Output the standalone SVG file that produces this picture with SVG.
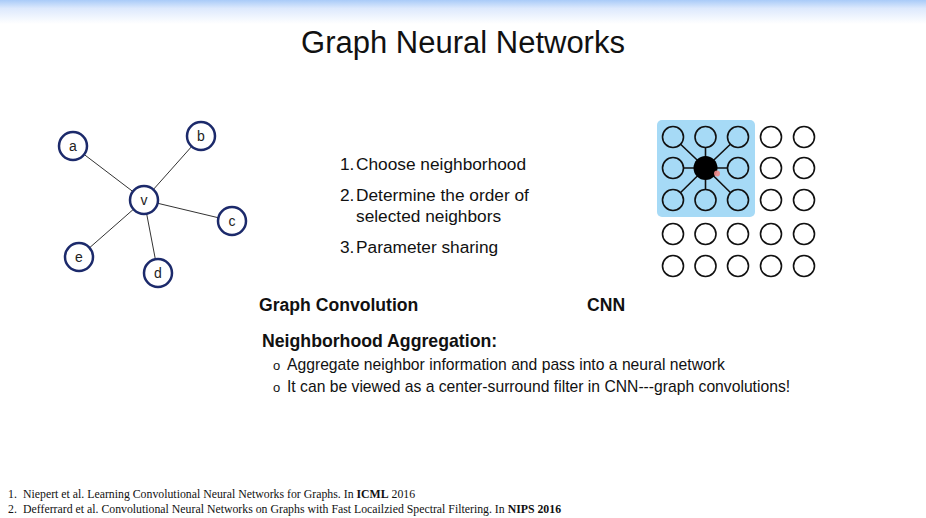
<svg xmlns="http://www.w3.org/2000/svg" width="926" height="518" viewBox="0 0 926 518">
<defs>
<linearGradient id="top" x1="0" y1="0" x2="0" y2="1">
<stop offset="0" stop-color="#a9cbf8"/>
<stop offset="0.35" stop-color="#dde9fd"/>
<stop offset="1" stop-color="#ffffff"/>
</linearGradient>
</defs>
<style>
.gn{fill:#fff;stroke:#1c2a6b;stroke-width:2.5}
.gl{font-family:"Liberation Sans",Arial,sans-serif;font-size:14px;fill:#222;text-anchor:middle}
.ge{stroke:#333;stroke-width:1}
.cc{fill:none;stroke:#111;stroke-width:1.6}
.cb{fill:#a6daf6;stroke:#111;stroke-width:1.6}
.ce{stroke:#111;stroke-width:1.6}
.t{font-family:"Liberation Sans",Arial,sans-serif;fill:#111}
.f{font-family:"Liberation Serif","Times New Roman",serif;font-size:11.8px;fill:#111}
</style>
<rect width="926" height="518" fill="#fff"/>
<rect width="926" height="24" fill="url(#top)"/>
<text class="t" x="463" y="53" font-size="31" text-anchor="middle">Graph Neural Networks</text>

<g id="connectors">
<line class="ge" x1="144" y1="200" x2="73" y2="146"/>
<line class="ge" x1="144" y1="200" x2="201" y2="136"/>
<line class="ge" x1="144" y1="200" x2="232" y2="221"/>
<line class="ge" x1="144" y1="200" x2="79" y2="257"/>
<line class="ge" x1="144" y1="200" x2="158" y2="273"/>
</g>
<g id="node-a"><circle class="gn" cx="73" cy="146" r="14"/><text class="gl" x="73" y="151">a</text></g>
<g id="node-b"><circle class="gn" cx="201" cy="136" r="14"/><text class="gl" x="201" y="141">b</text></g>
<g id="node-v"><circle class="gn" cx="144" cy="200" r="14"/><text class="gl" x="144" y="205">v</text></g>
<g id="node-c"><circle class="gn" cx="232" cy="221" r="14"/><text class="gl" x="232" y="226">c</text></g>
<g id="node-e"><circle class="gn" cx="79" cy="257" r="14"/><text class="gl" x="79" y="262">e</text></g>
<g id="node-d"><circle class="gn" cx="158" cy="273" r="14"/><text class="gl" x="158" y="278">d</text></g>

<g id="cnn">
<rect x="657" y="120" width="98" height="97" rx="5" fill="#a6daf6"/>
<g id="cnn-edges">
<line class="ce" x1="705.5" y1="168" x2="673" y2="137"/>
<line class="ce" x1="705.5" y1="168" x2="705.5" y2="137"/>
<line class="ce" x1="705.5" y1="168" x2="738" y2="137"/>
<line class="ce" x1="705.5" y1="168" x2="673" y2="168"/>
<line class="ce" x1="705.5" y1="168" x2="738" y2="168"/>
<line class="ce" x1="705.5" y1="168" x2="673" y2="200"/>
<line class="ce" x1="705.5" y1="168" x2="705.5" y2="200"/>
<line class="ce" x1="705.5" y1="168" x2="738" y2="200"/>
</g>
<g id="cnn-circles">
<circle class="cb" cx="673" cy="137" r="10.5"/>
<circle class="cb" cx="705.5" cy="137" r="10.5"/>
<circle class="cb" cx="738" cy="137" r="10.5"/>
<circle class="cc" cx="771" cy="137" r="10.5"/>
<circle class="cc" cx="804" cy="137" r="10.5"/>
<circle class="cb" cx="673" cy="168" r="10.5"/>
<circle cx="705.5" cy="168" r="12" fill="#000"/>
<circle class="cb" cx="738" cy="168" r="10.5"/>
<circle class="cc" cx="771" cy="168" r="10.5"/>
<circle class="cc" cx="804" cy="168" r="10.5"/>
<circle class="cb" cx="673" cy="200" r="10.5"/>
<circle class="cb" cx="705.5" cy="200" r="10.5"/>
<circle class="cb" cx="738" cy="200" r="10.5"/>
<circle class="cc" cx="771" cy="200" r="10.5"/>
<circle class="cc" cx="804" cy="200" r="10.5"/>
<circle class="cc" cx="673" cy="234" r="10.5"/>
<circle class="cc" cx="705.5" cy="234" r="10.5"/>
<circle class="cc" cx="738" cy="234" r="10.5"/>
<circle class="cc" cx="771" cy="234" r="10.5"/>
<circle class="cc" cx="804" cy="234" r="10.5"/>
<circle class="cc" cx="673" cy="266" r="10.5"/>
<circle class="cc" cx="705.5" cy="266" r="10.5"/>
<circle class="cc" cx="738" cy="266" r="10.5"/>
<circle class="cc" cx="771" cy="266" r="10.5"/>
<circle class="cc" cx="804" cy="266" r="10.5"/>
</g>
<circle cx="717" cy="173.5" r="3" fill="#f08a8a" opacity="0.9"/>
</g>

<g id="steps" class="t" font-size="17.3">
<text x="340" y="170">1.<tspan x="356">Choose neighborhood</tspan></text>
<text x="340" y="201">2.<tspan x="356">Determine the order of</tspan></text>
<text x="356" y="222">selected neighbors</text>
<text x="340" y="253">3.<tspan x="356">Parameter sharing</tspan></text>
</g>
<text class="t" x="259" y="311" font-size="17.6" font-weight="bold">Graph Convolution</text>
<text class="t" x="587" y="311" font-size="17.6" font-weight="bold">CNN</text>
<text class="t" x="262" y="347" font-size="17.7" font-weight="bold">Neighborhood Aggregation:</text>
<text class="t" x="273" y="370" font-size="13">o</text>
<text class="t" x="287" y="370" font-size="15.7">Aggregate neighbor information and pass into a neural network</text>
<text class="t" x="273" y="392" font-size="13">o</text>
<text class="t" x="287" y="392" font-size="15.7">It can be viewed as a center-surround filter in CNN---graph convolutions!</text>

<g id="refs">
<text class="f" x="8" y="498">1.</text>
<text class="f" x="23" y="498">Niepert et al. Learning Convolutional Neural Networks for Graphs. In <tspan font-weight="bold">ICML</tspan> 2016</text>
<text class="f" x="8" y="513">2.</text>
<text class="f" x="23" y="513">Defferrard et al. Convolutional Neural Networks on Graphs with Fast Locailzied Spectral Filtering. In <tspan font-weight="bold">NIPS 2016</tspan></text>
</g>
</svg>
